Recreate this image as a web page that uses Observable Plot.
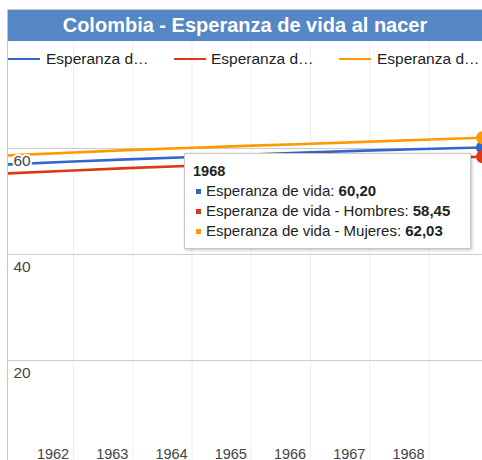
<!DOCTYPE html>
<html><head><meta charset="utf-8">
<script src="https://cdn.jsdelivr.net/npm/d3@7"></script>
<script src="https://cdn.jsdelivr.net/npm/@observablehq/plot@0.6"></script>
<style>
body{margin:0;background:#fff;font-family:Arial,"Liberation Sans",sans-serif;}
#wrap{position:relative;width:482px;height:460px;overflow:hidden;}
#frame{position:absolute;left:7px;top:9px;width:480px;height:460px;border-left:1px solid #c8c8c8;border-top:1px solid #c8c8c8;}
#title{position:absolute;left:8px;top:10px;width:474px;height:31px;background:#5586c6;color:#fff;font-weight:bold;font-size:20px;line-height:31px;text-align:center;white-space:nowrap;}
#chart{position:absolute;left:8px;top:42px;}
.lg-line{position:absolute;height:2px;top:58px;}
.lg-text{position:absolute;top:51px;font-size:15.5px;line-height:16px;color:#222;white-space:nowrap;}
#tip{position:absolute;background:#fff;border:1px solid #c8c8c8;box-shadow:1px 1px 3px rgba(0,0,0,0.25);width:285px;height:94px;font-size:15px;color:#222;}
#tip .row{position:absolute;left:21px;white-space:nowrap;line-height:16px;}
#tip .sq{position:absolute;left:11px;width:5px;height:5px;}
</style>
</head><body>
<div id="wrap">
  <div id="frame"></div>
  <div id="chart"></div>
  <div id="title"></div>
  <div id="legend"></div>
  <div id="tip"></div>
</div>
<script>
const titleText = "Colombia - Esperanza de vida al nacer";
const years = [1960, 1961, 1962, 1963, 1964, 1965, 1966, 1967, 1968];
const total = [57.0, 57.5, 57.95, 58.35, 58.8, 59.25, 59.6, 59.9, 60.20];
const men   = [55.3, 55.8, 56.3, 56.7, 57.1, 57.5, 57.8, 58.15, 58.45];
const women = [58.7, 59.2, 59.7, 60.1, 60.5, 60.85, 61.25, 61.65, 62.03];
const seriesNames = ["Esperanza de vida", "Esperanza de vida - Hombres", "Esperanza de vida - Mujeres"];
const legendLabels = ["Esperanza d…", "Esperanza d…", "Esperanza d…"];
const colors = ["#3366cc", "#dc3912", "#ff9900"];
const xTickYears = [1962, 1963, 1964, 1965, 1966, 1967, 1968];
const yTicks = [20, 40, 60];
const tipYear = 1968;
const tipValues = ["60,20", "58,45", "62,03"];

const seriesValues = [total, men, women];
const data = seriesValues.flatMap((vals, s) => years.map((yr, i) => ({year: yr, value: vals[i], series: seriesNames[s]})));

document.getElementById("title").textContent = titleText;

const plot = Plot.plot({
  width: 474, height: 418,
  marginTop: 0, marginRight: 0, marginBottom: 0, marginLeft: 0,
  x: {domain: [1960, 1968], range: [0, 474], axis: null},
  y: {domain: [0, 80], range: [424, 0], axis: null},
  color: {domain: seriesNames, range: colors},
  style: {fontFamily: "Arial, 'Liberation Sans', sans-serif", background: "transparent", overflow: "hidden"},
  marks: [
    Plot.ruleX(xTickYears, {x: d => d, dx: -53.5, stroke: "#eeeeee", strokeWidth: 1}),
    Plot.ruleY(yTicks, {y: d => d, stroke: "#cccccc", strokeWidth: 1}),
    Plot.line(data, {x: "year", y: "value", stroke: "series", z: "series", strokeWidth: 2.6}),
    Plot.text(yTicks, {y: d => d, frameAnchor: "left", textAnchor: "start", lineAnchor: "top", dx: 5, dy: 6, text: d => String(d), fill: "#444", stroke: "white", strokeWidth: 4, fontSize: 15.5}),
    Plot.dot(data.filter(d => d.year === tipYear), {x: "year", y: "value", fill: "series", r: 6.5}),
    Plot.text(xTickYears, {x: d => d, frameAnchor: "bottom", lineAnchor: "bottom", dx: -74, dy: -2, text: d => String(d), fill: "#444", fontSize: 14.5})
  ]
});
document.getElementById("chart").appendChild(plot);

// legend
const legPos = [[8, 46], [174, 211], [339, 377]];
const leg = document.getElementById("legend");
seriesNames.forEach((n, i) => {
  const ln = document.createElement("div");
  ln.className = "lg-line";
  ln.style.left = legPos[i][0] + "px";
  ln.style.width = "32px";
  ln.style.background = colors[i];
  leg.appendChild(ln);
  const tx = document.createElement("div");
  tx.className = "lg-text";
  tx.style.left = legPos[i][1] + "px";
  tx.textContent = legendLabels[i];
  leg.appendChild(tx);
});

// tooltip anchored to the 1968 point
const xs = plot.scale("x"), ys = plot.scale("y");
const px = 8 + xs.apply(tipYear), py = 42 + ys.apply(total[total.length - 1]);
const tip = document.getElementById("tip");
tip.style.left = (px - 298) + "px";
tip.style.top = (py + 6) + "px";
const head = document.createElement("div");
head.className = "row";
head.style.left = "8px";
head.style.top = "9px";
head.style.fontWeight = "bold";
head.style.fontSize = "14.5px";
head.textContent = String(tipYear);
tip.appendChild(head);
seriesNames.forEach((n, i) => {
  const sq = document.createElement("div");
  sq.className = "sq";
  sq.style.top = (35 + 20 * i) + "px";
  sq.style.background = colors[i];
  tip.appendChild(sq);
  const r = document.createElement("div");
  r.className = "row";
  r.style.top = (29 + 20 * i) + "px";
  r.innerHTML = n + ": <b>" + tipValues[i] + "</b>";
  tip.appendChild(r);
});
</script>
</body></html>
